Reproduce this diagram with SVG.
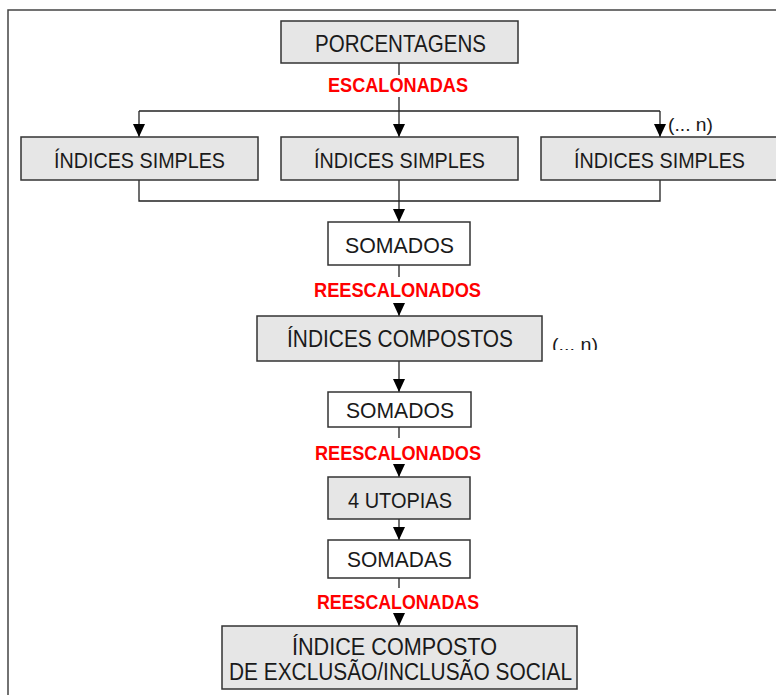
<svg xmlns="http://www.w3.org/2000/svg" width="776" height="695" viewBox="0 0 776 695">
  <style>
    .box { fill: #e6e6e6; stroke: #333; stroke-width: 1.5; }
    .box-w { fill: #ffffff; stroke: #333; stroke-width: 1.5; }
    .lbl { font-family: "Liberation Sans", Arial, sans-serif; font-size: 22px; fill: #1a1a1a; }
    .big { font-size: 23.5px; }
    .top { font-size: 24.5px; }
    .red { font-family: "Liberation Sans", Arial, sans-serif; font-size: 20px; font-weight: bold; fill: #ff0000; }
    .note { font-family: "Liberation Sans", Arial, sans-serif; font-size: 18px; fill: #1a1a1a; }
    .wire { fill: none; stroke: #222; stroke-width: 1.3; }
    .arr { fill: none; stroke: #222; stroke-width: 1.3; marker-end: url(#tip); }
  </style>
  <defs>
    <marker id="tip" markerUnits="userSpaceOnUse" markerWidth="13" markerHeight="12" refX="13" refY="6" orient="auto" viewBox="0 0 13 12">
      <path d="M0,0 L13,6 L0,12 z" fill="#000"/>
    </marker>
    <clipPath id="cut">
      <rect x="540" y="320" width="80" height="30"/>
    </clipPath>
  </defs>

  <rect width="776" height="695" fill="#ffffff"/>
  <!-- frame -->
  <path d="M8,700 L8,10 L780,10" fill="none" stroke="#444" stroke-width="1.5"/>

  <!-- connectors -->
  <g id="connectors">
    <path class="wire" d="M399,63 L399,75"/>
    <path class="wire" d="M399,97 L399,111"/>
    <path class="wire" d="M139,111 L660,111"/>
    <path class="arr" d="M139,111 L139,137"/>
    <path class="arr" d="M399,111 L399,137"/>
    <path class="arr" d="M660,111 L660,137"/>
    <path class="wire" d="M139,180 L139,201 L660,201 L660,180"/>
    <path class="arr" d="M399,180 L399,222"/>
    <path class="wire" d="M399,265 L399,277"/>
    <path class="arr" d="M399,303 L399,316"/>
    <path class="arr" d="M399,361 L399,392"/>
    <path class="wire" d="M399,427 L399,438"/>
    <path class="arr" d="M399,464 L399,477"/>
    <path class="arr" d="M399,519 L399,540"/>
    <path class="wire" d="M399,578 L399,588"/>
    <path class="arr" d="M399,613 L399,626"/>
  </g>

  <!-- edge labels -->
  <g id="edge-labels">
    <text class="red" x="328" y="92" textLength="140" lengthAdjust="spacingAndGlyphs">ESCALONADAS</text>
    <text class="red" x="314" y="297" textLength="167" lengthAdjust="spacingAndGlyphs">REESCALONADOS</text>
    <text class="red" x="315" y="460" textLength="166" lengthAdjust="spacingAndGlyphs">REESCALONADOS</text>
    <text class="red" x="317" y="609" textLength="162" lengthAdjust="spacingAndGlyphs">REESCALONADAS</text>
    <text class="note" x="668" y="131" textLength="45" lengthAdjust="spacingAndGlyphs">(... n)</text>
    <text class="note" x="552" y="351" textLength="46" lengthAdjust="spacingAndGlyphs" clip-path="url(#cut)">(... n)</text>
  </g>

  <g id="porcentagens">
    <rect class="box" x="281" y="21" width="237" height="42"/>
    <text class="lbl top" x="315" y="52" textLength="171" lengthAdjust="spacingAndGlyphs">PORCENTAGENS</text>
  </g>

  <g id="indices-simples-1">
    <rect class="box" x="21" y="137" width="237" height="43"/>
    <text class="lbl" x="54" y="168" textLength="171" lengthAdjust="spacingAndGlyphs">ÍNDICES SIMPLES</text>
  </g>
  <g id="indices-simples-2">
    <rect class="box" x="281" y="137" width="237" height="43"/>
    <text class="lbl" x="314" y="168" textLength="171" lengthAdjust="spacingAndGlyphs">ÍNDICES SIMPLES</text>
  </g>
  <g id="indices-simples-3">
    <rect class="box" x="541" y="137" width="245" height="43"/>
    <text class="lbl" x="574" y="168" textLength="171" lengthAdjust="spacingAndGlyphs">ÍNDICES SIMPLES</text>
  </g>

  <g id="somados-1">
    <rect class="box-w" x="328" y="222" width="142" height="43"/>
    <text class="lbl" x="345" y="253" textLength="109" lengthAdjust="spacingAndGlyphs">SOMADOS</text>
  </g>

  <g id="indices-compostos">
    <rect class="box" x="257" y="316" width="285" height="45"/>
    <text class="lbl big" x="287" y="347" textLength="226" lengthAdjust="spacingAndGlyphs">ÍNDICES COMPOSTOS</text>
  </g>

  <g id="somados-2">
    <rect class="box-w" x="328" y="392" width="143" height="35"/>
    <text class="lbl" x="346" y="418" textLength="108" lengthAdjust="spacingAndGlyphs">SOMADOS</text>
  </g>

  <g id="utopias">
    <rect class="box" x="328" y="477" width="142" height="42"/>
    <text class="lbl" x="348" y="508" textLength="104" lengthAdjust="spacingAndGlyphs">4 UTOPIAS</text>
  </g>

  <g id="somadas">
    <rect class="box-w" x="328" y="540" width="142" height="38"/>
    <text class="lbl" x="347" y="567" textLength="105" lengthAdjust="spacingAndGlyphs">SOMADAS</text>
  </g>

  <g id="indice-composto">
    <rect class="box" x="222" y="626" width="355" height="63"/>
    <text class="lbl big" x="292" y="655" textLength="205" lengthAdjust="spacingAndGlyphs">ÍNDICE COMPOSTO</text>
    <text class="lbl big" x="229" y="680" textLength="343" lengthAdjust="spacingAndGlyphs">DE EXCLUSÃO/INCLUSÃO SOCIAL</text>
  </g>
</svg>
